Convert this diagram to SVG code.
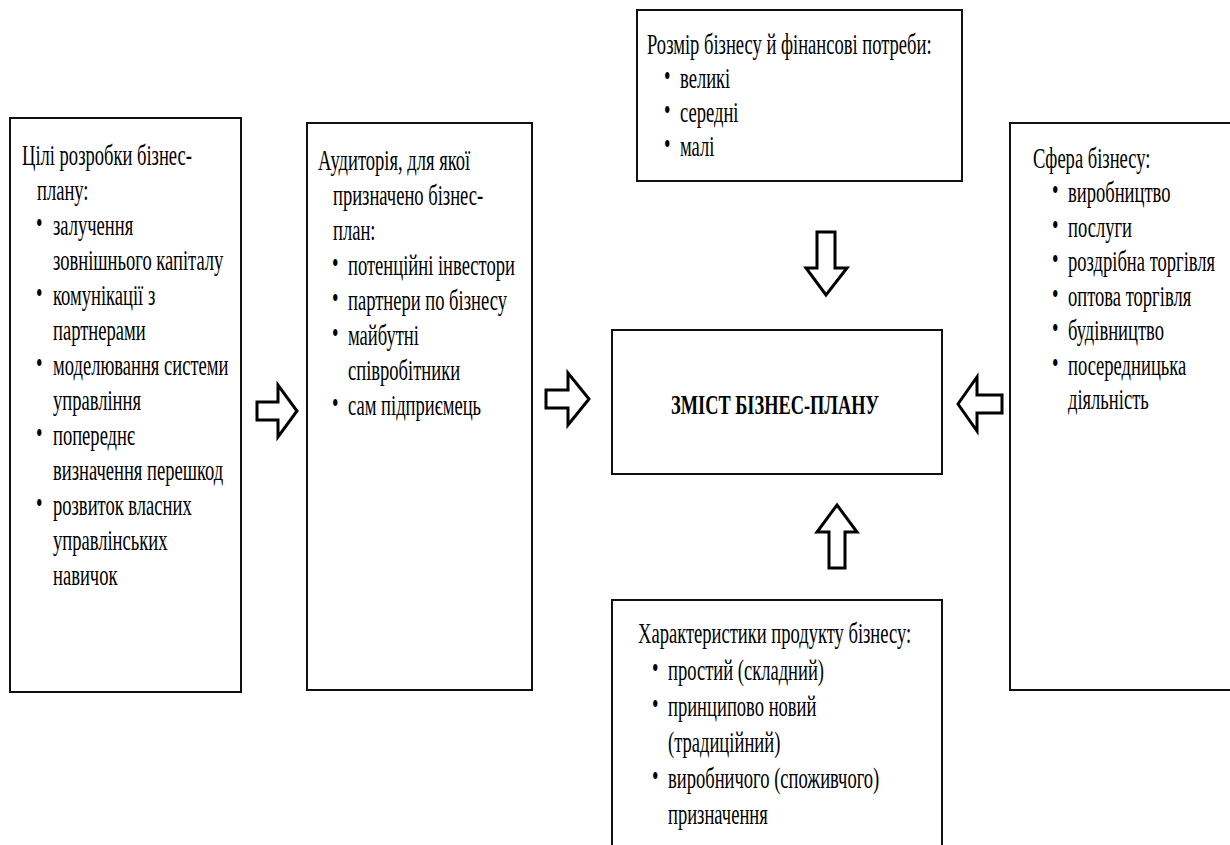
<svg xmlns="http://www.w3.org/2000/svg" width="1230" height="845" viewBox="0 0 1230 845">
<style>
.box{fill:#fff;stroke:#111;stroke-width:2}
.t{font-family:"Liberation Serif","Times New Roman",serif;font-size:29px;fill:#000}
.b{font-family:"Liberation Serif","Times New Roman",serif;font-size:27px;font-weight:bold;fill:#000}
.arr{fill:#fff;stroke:#000;stroke-width:3;stroke-linejoin:miter}
</style>
<rect width="1230" height="845" fill="#fff"/>

<g id="goals">
<rect class="box" x="10" y="118" width="231" height="574"/>
<text class="t" transform="translate(22 165) scale(0.64 1)">Цілі розробки бізнес-</text>
<text class="t" transform="translate(37 200) scale(0.64 1)">плану:</text>
<text class="t" transform="translate(36 233) scale(0.64 1)">•</text>
<text class="t" transform="translate(53 235) scale(0.64 1)">залучення</text>
<text class="t" transform="translate(53 270) scale(0.64 1)">зовнішнього капіталу</text>
<text class="t" transform="translate(36 303) scale(0.64 1)">•</text>
<text class="t" transform="translate(53 305) scale(0.64 1)">комунікації з</text>
<text class="t" transform="translate(53 340) scale(0.64 1)">партнерами</text>
<text class="t" transform="translate(36 373) scale(0.64 1)">•</text>
<text class="t" transform="translate(53 375) scale(0.64 1)">моделювання системи</text>
<text class="t" transform="translate(53 410) scale(0.64 1)">управління</text>
<text class="t" transform="translate(36 443) scale(0.64 1)">•</text>
<text class="t" transform="translate(53 445) scale(0.64 1)">попереднє</text>
<text class="t" transform="translate(53 480) scale(0.64 1)">визначення перешкод</text>
<text class="t" transform="translate(36 513) scale(0.64 1)">•</text>
<text class="t" transform="translate(53 515) scale(0.64 1)">розвиток власних</text>
<text class="t" transform="translate(53 550) scale(0.64 1)">управлінських</text>
<text class="t" transform="translate(53 585) scale(0.64 1)">навичок</text>
</g>

<g id="audience">
<rect class="box" x="307" y="123" width="225" height="567"/>
<text class="t" transform="translate(318 170) scale(0.64 1)">Аудиторія, для якої</text>
<text class="t" transform="translate(333 205) scale(0.64 1)">призначено бізнес-</text>
<text class="t" transform="translate(333 240) scale(0.64 1)">план:</text>
<text class="t" transform="translate(332 273) scale(0.64 1)">•</text>
<text class="t" transform="translate(348 275) scale(0.64 1)">потенційні інвестори</text>
<text class="t" transform="translate(332 308) scale(0.64 1)">•</text>
<text class="t" transform="translate(348 310) scale(0.64 1)">партнери по бізнесу</text>
<text class="t" transform="translate(332 343) scale(0.64 1)">•</text>
<text class="t" transform="translate(348 345) scale(0.64 1)">майбутні</text>
<text class="t" transform="translate(348 380) scale(0.64 1)">співробітники</text>
<text class="t" transform="translate(332 413) scale(0.64 1)">•</text>
<text class="t" transform="translate(348 415) scale(0.64 1)">сам підприємець</text>
</g>

<g id="size">
<rect class="box" x="637" y="10" width="325" height="171"/>
<text class="t" transform="translate(647 54) scale(0.64 1)">Розмір бізнесу й фінансові потреби:</text>
<text class="t" transform="translate(664 86) scale(0.64 1)">•</text>
<text class="t" transform="translate(680 88) scale(0.64 1)">великі</text>
<text class="t" transform="translate(664 120) scale(0.64 1)">•</text>
<text class="t" transform="translate(680 122) scale(0.64 1)">середні</text>
<text class="t" transform="translate(664 154) scale(0.64 1)">•</text>
<text class="t" transform="translate(680 156) scale(0.64 1)">малі</text>
</g>

<g id="content">
<rect class="box" x="612" y="330" width="330" height="144"/>
<text class="b" text-anchor="middle" transform="translate(775 414) scale(0.68 1)">ЗМІСТ БІЗНЕС-ПЛАНУ</text>
</g>

<g id="sphere">
<rect class="box" x="1010" y="123" width="240" height="567"/>
<text class="t" transform="translate(1033 168) scale(0.64 1)">Сфера бізнесу:</text>
<text class="t" transform="translate(1052 200) scale(0.64 1)">•</text>
<text class="t" transform="translate(1068 202) scale(0.64 1)">виробництво</text>
<text class="t" transform="translate(1052 235) scale(0.64 1)">•</text>
<text class="t" transform="translate(1068 237) scale(0.64 1)">послуги</text>
<text class="t" transform="translate(1052 269) scale(0.64 1)">•</text>
<text class="t" transform="translate(1068 271) scale(0.64 1)">роздрібна торгівля</text>
<text class="t" transform="translate(1052 304) scale(0.64 1)">•</text>
<text class="t" transform="translate(1068 306) scale(0.64 1)">оптова торгівля</text>
<text class="t" transform="translate(1052 338) scale(0.64 1)">•</text>
<text class="t" transform="translate(1068 340) scale(0.64 1)">будівництво</text>
<text class="t" transform="translate(1052 373) scale(0.64 1)">•</text>
<text class="t" transform="translate(1068 375) scale(0.64 1)">посередницька</text>
<text class="t" transform="translate(1068 409) scale(0.64 1)">діяльність</text>
</g>

<g id="product">
<rect class="box" x="612" y="600" width="330" height="260"/>
<text class="t" transform="translate(638 643) scale(0.64 1)">Характеристики продукту бізнесу:</text>
<text class="t" transform="translate(652 678) scale(0.64 1)">•</text>
<text class="t" transform="translate(668 680) scale(0.64 1)">простий (складний)</text>
<text class="t" transform="translate(652 714) scale(0.64 1)">•</text>
<text class="t" transform="translate(668 716) scale(0.64 1)">принципово новий</text>
<text class="t" transform="translate(668 752) scale(0.64 1)">(традиційний)</text>
<text class="t" transform="translate(652 786) scale(0.64 1)">•</text>
<text class="t" transform="translate(668 788) scale(0.64 1)">виробничого (споживчого)</text>
<text class="t" transform="translate(668 824) scale(0.64 1)">призначення</text>
</g>

<g id="connectors">
<polygon class="arr" points="257,402 278,402 278,385 297,411 278,437 278,420 257,420"/>
<polygon class="arr" points="546,390 568,390 568,373 589,399 568,425 568,408 546,408"/>
<polygon class="arr" points="1002,395 977,395 977,377 958,404 977,431 977,413 1002,413"/>
<polygon class="arr" points="817,232 835,232 835,268 847,268 826,295 806,268 817,268"/>
<polygon class="arr" points="829,568 845,568 845,532 857,532 837,505 817,532 829,532"/>
</g>
</svg>
